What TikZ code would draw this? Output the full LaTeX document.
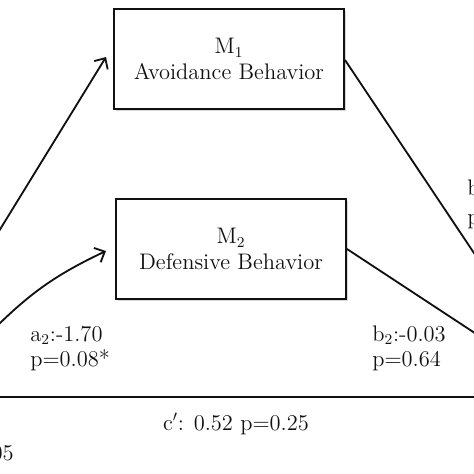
\documentclass[tikz,border=0pt]{standalone}
\usepackage{xcolor}
\usepackage{tikz}
\usetikzlibrary{arrows.meta, positioning, calc, shadows}
\definecolor{inkBlack}{HTML}{111111}
\definecolor{shadowGray}{HTML}{9A9A9A}

\begin{document}
\begin{tikzpicture}[
  x=0.6pt, y=-0.6pt,
  every node/.style={font=\fontsize{13.5}{14}\selectfont, text=inkBlack},
  medBox/.style={draw=inkBlack, fill=white, line width=1.2pt, minimum width=138pt, minimum height=60pt,
    inner sep=0pt, align=center, font=\fontsize{13.5}{15.5}\selectfont,
    drop shadow={shadow xshift=1.2pt, shadow yshift=-1.4pt, opacity=0.4, fill=shadowGray}},
  pathLine/.style={draw=inkBlack, line width=1.1pt},
  pathArrow/.style={pathLine, -{Straight Barb[length=5pt, width=9.5pt, line width=1.1pt]}},
  effLabel/.style={anchor=base west, inner sep=0pt}
]
  \useasboundingbox (0,0) rectangle (474,474);
  \clip (0,0) rectangle (474,474);

  % mediators
  \node[medBox] (m1) at (229,59) {M$_1$\\Avoidance Behavior};
  \node[medBox] (m2) at (231,249) {M$_2$\\Defensive Behavior};

  % ends of paths leaving the frame
  \coordinate (xTop) at (-20,262);
  \coordinate (xBot) at (-10,333);
  \coordinate (yTop) at (490,277);
  \coordinate (yBot) at (490,343);
  \coordinate (cLeft) at (-10,397);
  \coordinate (cRight) at (490,397);

  % a paths
  \draw[pathArrow] (xTop) -- ($(m1.west)+(-7,-2)$);
  \draw[pathArrow] (xBot) to[bend left=10] ($(m2.west)+(-9,2)$);

  % b paths
  \draw[pathLine] ($(m1.east)+(0,1)$) -- (yTop);
  \draw[pathLine] (m2.east) -- (yBot);

  % direct path
  \draw[pathLine] (cLeft) -- (cRight);

  % coefficients
  \node[effLabel] (a2Lab) at (30,341) {a$_2$:-1.70};
  \node[effLabel] (a2pLab) at (30,366) {p=0.08*};
  \node[effLabel] (b2Lab) at (372,341) {b$_2$:-0.03};
  \node[effLabel] (b2pLab) at (372,366) {p=0.64};
  \node[anchor=base, inner sep=0pt] (cLab) at (236,430) {c$'$: 0.52 p=0.25};
  \node[effLabel] (b1Lab) at (467,195) {b};
  \node[effLabel] (b1pLab) at (467,224) {p};
  \node[anchor=base east, inner sep=0pt] (noteLab) at (14,460) {05};

\end{tikzpicture}
\end{document}
